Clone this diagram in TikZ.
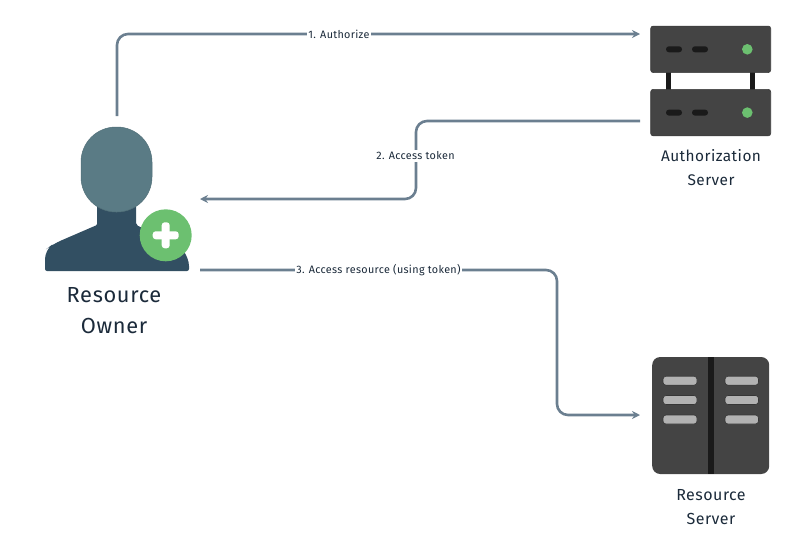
\documentclass[tikz,border=0pt]{standalone}
\usepackage{fontspec}
\setmainfont[LetterSpace=3]{Fira Sans}
\usetikzlibrary{%
  arrows.meta%
}

\definecolor{flowgrey}{HTML}{6B7F90}
\definecolor{inkblue}{HTML}{1B2A3A}
\definecolor{headteal}{HTML}{5A7B85}
\definecolor{bodyblue}{HTML}{324F62}
\definecolor{okgreen}{HTML}{6CC070}
\definecolor{rackgrey}{HTML}{444444}
\definecolor{slotblack}{HTML}{1A1A1A}
\definecolor{bargrey}{HTML}{B2B2B2}

\tikzset{
  flow/.style={draw=flowgrey, line width=2.6pt, rounded corners=11pt},
  arrowflow/.style={flow, -{Stealth[length=8pt,width=8pt]}},
  flowlabel/.style={fill=white, text=inkblue, font=\fontsize{10.8}{12}\selectfont, inner sep=1.5pt},
  title/.style={text=inkblue, align=center, font=\fontsize{#1}{23.5}\selectfont},
  bigtitle/.style={text=inkblue, align=center, font=\fontsize{21.8}{31}\selectfont},
  rackbox/.style={fill=rackgrey, draw=rackgrey!85!black, line width=0.6pt, rounded corners=2.5pt,
    minimum width=120pt, minimum height=46.5pt, inner sep=0pt},
  slot/.style={fill=slotblack, rounded corners=2.9pt},
  bar/.style={fill=bargrey, draw=rackgrey!80!black, line width=0.6pt, rounded corners=3pt}
}

\begin{document}
\begin{tikzpicture}[x=1pt,y=-1pt]
  \useasboundingbox (0,0) rectangle (800,536);

  % resource owner
  \fill[bodyblue, rounded corners=2pt] (97,205) -- (136,205) -- (136,225) -- (176,243)
    [rounded corners=9pt] -- (189,257) [rounded corners=2pt] -- (189,271) -- (45,271)
    [rounded corners=9pt] -- (45,250) -- (53,244) [rounded corners=1pt] -- (97,225) -- cycle;
  \node[fill=headteal, draw=headteal!90!black, line width=0.5pt, rounded corners=35pt,
    minimum width=71pt, minimum height=85pt, inner sep=0pt] (ownerhead) at (116.5,169.5) {};
  \node[circle, fill=okgreen, minimum size=52pt, inner sep=0pt] (ownerbadge) at (165.7,235.3) {};
  \fill[white, rounded corners=3pt] (152.7,231.3) rectangle (178.7,239.3);
  \fill[white, rounded corners=3pt] (161.7,222.3) rectangle (169.7,248.3);
  \node[bigtitle] (ownertitle) at (114,310.5) {Resource\\Owner};

  % authorization server
  \fill[slotblack] (666.2,70) rectangle (671.2,92);
  \fill[slotblack] (750.2,70) rectangle (755.2,92);
  \foreach \name/\y in {authtop/49.3, authbottom/112.6} {
    \node[rackbox] (\name) at (710.7,\y) {};
    \fill[slot] (666,\y-3) rectangle (682,\y+3);
    \fill[slot] (692,\y-3) rectangle (708,\y+3);
    \fill[okgreen] (747.3,\y) circle (5.3);
  }
  \node[title=15.4] (authtitle) at (711,167.5) {Authorization\\Server};

  % resource server
  \node[fill=rackgrey, rounded corners=8pt, minimum width=117pt, minimum height=117pt,
    inner sep=0pt] (resrack) at (710.7,415.5) {};
  \fill[slotblack] (708,357) rectangle (713.8,474);
  \foreach \y in {380.7, 400, 419.5} {
    \fill[bar] (663,\y-4.5) rectangle (697,\y+4.5);
    \fill[bar] (725,\y-4.5) rectangle (758.5,\y+4.5);
  }
  \node[title=16] (restitle) at (711,507) {Resource\\Server};

  % connector ends
  \coordinate (ownertop) at (117,116);
  \coordinate (ownerin) at (200,199);
  \coordinate (ownerout) at (200,270);
  \coordinate (authin) at (640,34);
  \coordinate (authout) at (640,121);
  \coordinate (resin) at (640,415);
  \coordinate (tokenbend) at (416,160);
  \coordinate (resbend) at (557,340);

  \draw[arrowflow] (ownertop) |- (authin);
  \draw[arrowflow] (authout) -| (tokenbend) |- (ownerin);
  \draw[arrowflow] (ownerout) -| (resbend) |- (resin);

  \node[flowlabel] (authorize) at (339,34) {1. Authorize};
  \node[flowlabel] (token) at (415.5,156) {2. Access token};
  \node[flowlabel] (access) at (378.5,270) {3. Access resource (using token)};
\end{tikzpicture}
\end{document}
